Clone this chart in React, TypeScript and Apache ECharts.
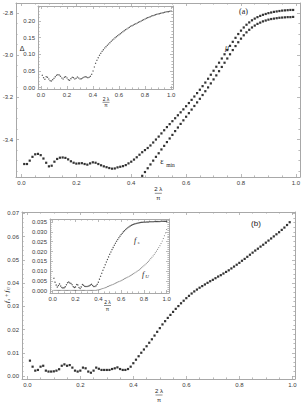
import { useEffect, useRef } from "react";
import * as echarts from "echarts";

// ---------- data (x grid: start 0.01, step 0.01) ----------
const X_STEP = 0.01;

// Panel (a): mu, from x = 0.01 to 0.99
const MU_START = 0.01;
const MU = [
  -3.516, -3.516, -3.5, -3.482, -3.47, -3.468, -3.474, -3.49, -3.51, -3.527,
  -3.524, -3.505, -3.492, -3.486, -3.485, -3.487, -3.494, -3.503, -3.51, -3.514,
  -3.513, -3.512, -3.516, -3.519, -3.513, -3.508, -3.51, -3.516, -3.522, -3.527,
  -3.531, -3.535, -3.538, -3.537, -3.532, -3.529, -3.526, -3.521, -3.513, -3.505,
  -3.495, -3.484, -3.472, -3.46, -3.45, -3.44, -3.428, -3.414, -3.4, -3.386,
  -3.371, -3.356, -3.341, -3.327, -3.313, -3.299, -3.285, -3.271, -3.257, -3.242,
  -3.227, -3.212, -3.196, -3.18, -3.164, -3.147, -3.13, -3.112, -3.093, -3.074,
  -3.055, -3.036, -3.016, -2.996, -2.976, -2.956, -2.937, -2.918, -2.9, -2.884,
  -2.869, -2.856, -2.845, -2.835, -2.827, -2.82, -2.814, -2.809, -2.805, -2.801,
  -2.798, -2.795, -2.793, -2.791, -2.789, -2.788, -2.787, -2.786, -2.786,
];

// Panel (a): epsilon_min, visible from x = 0.44 to 0.99
const EPS_START = 0.44;
const EPS_MIN = [
  -3.572, -3.554, -3.536, -3.518, -3.5, -3.482, -3.465, -3.447, -3.43, -3.412,
  -3.395, -3.378, -3.36, -3.343, -3.326, -3.309, -3.292, -3.275, -3.258, -3.241,
  -3.224, -3.207, -3.189, -3.171, -3.153, -3.134, -3.115, -3.096, -3.076, -3.056,
  -3.036, -3.016, -2.996, -2.976, -2.957, -2.939, -2.922, -2.906, -2.892, -2.88,
  -2.869, -2.86, -2.852, -2.846, -2.84, -2.836, -2.832, -2.829, -2.827, -2.825,
  -2.823, -2.822, -2.821, -2.82, -2.82, -2.819,
];

// Inset (a): Delta, x = 0.01 .. 1.00
const DELTA_START = 0.01;
const DELTA = [
  0.037, 0.03, 0.025, 0.033, 0.031, 0.026, 0.021, 0.02, 0.024, 0.028,
  0.033, 0.037, 0.039, 0.038, 0.034, 0.029, 0.026, 0.031, 0.033, 0.029,
  0.024, 0.022, 0.027, 0.031, 0.03, 0.026, 0.028, 0.032, 0.029, 0.026,
  0.027, 0.029, 0.031, 0.033, 0.032, 0.03, 0.031, 0.034, 0.04, 0.05,
  0.062, 0.073, 0.082, 0.09, 0.097, 0.103, 0.109, 0.114, 0.119, 0.123,
  0.127, 0.131, 0.135, 0.139, 0.143, 0.146, 0.15, 0.153, 0.156, 0.159,
  0.162, 0.165, 0.168, 0.171, 0.174, 0.176, 0.179, 0.181, 0.184, 0.186,
  0.188, 0.19, 0.192, 0.194, 0.196, 0.198, 0.2, 0.202, 0.204, 0.206,
  0.208, 0.21, 0.211, 0.213, 0.215, 0.216, 0.217, 0.219, 0.22, 0.221,
  0.222, 0.223, 0.224, 0.225, 0.226, 0.227, 0.228, 0.228, 0.229, 0.23,
];

// Panel (b): fs + fU, x = 0.01 .. 0.99
const FSUM_START = 0.01;
const F_SUM = [
  0.0066, 0.004, 0.0023, 0.0026, 0.004, 0.0044, 0.0023, 0.0019, 0.0019, 0.002,
  0.0023, 0.0029, 0.0044, 0.005, 0.0044, 0.0047, 0.0036, 0.0023, 0.0019, 0.0023,
  0.0036, 0.0033, 0.0019, 0.0014, 0.0023, 0.0036, 0.0031, 0.0026, 0.0026, 0.0026,
  0.0026, 0.003, 0.0033, 0.0037, 0.003, 0.0026, 0.0026, 0.003, 0.004, 0.0055,
  0.007, 0.0085, 0.01, 0.0114, 0.0128, 0.0143, 0.0158, 0.0174, 0.019, 0.0206,
  0.0222, 0.0236, 0.025, 0.0263, 0.0276, 0.0289, 0.0301, 0.0313, 0.0324, 0.0335,
  0.0345, 0.0355, 0.0364, 0.0372, 0.038, 0.0387, 0.0394, 0.0401, 0.0408, 0.0414,
  0.0421, 0.0428, 0.0434, 0.0441, 0.0448, 0.0455, 0.0463, 0.0471, 0.0479, 0.0487,
  0.0496, 0.0504, 0.0513, 0.0522, 0.0531, 0.054, 0.0548, 0.0557, 0.0565, 0.0574,
  0.0583, 0.0592, 0.0601, 0.061, 0.0619, 0.0629, 0.0639, 0.065, 0.0662,
];

// Inset (b): fs and fU, x = 0.01 .. 1.00
const FS_START = 0.01;
const F_S = [
  0.0065, 0.0045, 0.003, 0.002, 0.0028, 0.0036, 0.0025, 0.0018, 0.0015, 0.0017,
  0.0022, 0.0032, 0.0042, 0.0046, 0.0041, 0.0038, 0.0032, 0.0022, 0.0018, 0.0021,
  0.0033, 0.0031, 0.0018, 0.0013, 0.0021, 0.0033, 0.0029, 0.0024, 0.0023, 0.0023,
  0.0024, 0.0027, 0.003, 0.0034, 0.0028, 0.0023, 0.0023, 0.0027, 0.0034, 0.0045,
  0.006, 0.0075, 0.009, 0.0105, 0.0119, 0.0133, 0.0147, 0.016, 0.0173, 0.0186,
  0.0198, 0.021, 0.0221, 0.0232, 0.0242, 0.0252, 0.0261, 0.027, 0.0278, 0.0286,
  0.0293, 0.03, 0.0306, 0.0312, 0.0317, 0.0322, 0.0326, 0.033, 0.0333, 0.0336,
  0.0338, 0.034, 0.0342, 0.0343, 0.0345, 0.0346, 0.0347, 0.0348, 0.0348, 0.0349,
  0.0349, 0.035, 0.035, 0.035, 0.0351, 0.0351, 0.0351, 0.0351, 0.0352, 0.0352,
  0.0352, 0.0352, 0.0352, 0.0352, 0.0353, 0.0353, 0.0353, 0.0353, 0.0353, 0.0353,
];
const FU_START = 0.01;
const F_U = [
  0.0003, 0.0003, 0.0003, 0.0003, 0.0003, 0.0003, 0.0003, 0.0003, 0.0003, 0.0003,
  0.0003, 0.0003, 0.0003, 0.0003, 0.0003, 0.0003, 0.0003, 0.0003, 0.0003, 0.0003,
  0.0003, 0.0003, 0.0003, 0.0003, 0.0003, 0.0003, 0.0003, 0.0003, 0.0003, 0.0003,
  0.0003, 0.0003, 0.0003, 0.0003, 0.0003, 0.0003, 0.0003, 0.0003, 0.0005, 0.0006,
  0.0007, 0.0009, 0.0011, 0.0013, 0.0015, 0.0017, 0.0019, 0.0022, 0.0024, 0.0027,
  0.0029, 0.0032, 0.0034, 0.0037, 0.004, 0.0042, 0.0045, 0.0048, 0.005, 0.0053,
  0.0056, 0.0059, 0.0062, 0.0065, 0.0068, 0.0071, 0.0074, 0.0078, 0.0081, 0.0085,
  0.0088, 0.0092, 0.0096, 0.01, 0.0104, 0.0108, 0.0113, 0.0118, 0.0123, 0.0128,
  0.0133, 0.0139, 0.0145, 0.0151, 0.0157, 0.0164, 0.0171, 0.0178, 0.0186, 0.0194,
  0.0202, 0.0211, 0.022, 0.023, 0.0241, 0.0253, 0.0266, 0.028, 0.0295, 0.0312,
];

// ---------- ticks ----------
const X_TICKS = [0, 0.2, 0.4, 0.6, 0.8, 1.0];
const A_Y_TICKS = [-3.4, -3.2, -3.0, -2.8];
const AI_Y_TICKS = [0, 0.05, 0.1, 0.15, 0.2];
const B_Y_TICKS = [0, 0.01, 0.02, 0.03, 0.04, 0.05, 0.06, 0.07];
const BI_Y_TICKS = [0, 0.005, 0.01, 0.015, 0.02, 0.025, 0.03, 0.035];

function minorTicks(lo: number, hi: number, step: number, major: number) {
  const out: number[] = [];
  const n = Math.round((hi - lo) / step);
  for (let i = 0; i <= n; i++) {
    const v = lo + i * step;
    const r = v / major;
    if (Math.abs(r - Math.round(r)) > 1e-6) out.push(+v.toFixed(5));
  }
  return out;
}

function pts(start: number, ys: number[]) {
  return ys.map((y, i) => [Math.round((start + i * X_STEP) * 1000) / 1000, y]);
}

const FRAME = "#a8a8a8";
const LABEL = "#3a3a3a";
const SANS = '"Liberation Sans", Arial, sans-serif';
const SERIF = '"Liberation Serif", "DejaVu Serif", serif';

function frame(
  gi: number,
  xr: number[],
  yr: number[],
  xMaj: number[],
  xMin: number[],
  yMaj: number[],
  yMin: number[],
  xDec: number,
  yDec: number
) {
  const base = (r: number[]) => ({
    type: "value",
    gridIndex: gi,
    min: r[0],
    max: r[1],
    splitLine: { show: false },
  });
  const lbl = (vals: number[], dec: number) => ({
    show: true,
    customValues: vals,
    formatter: (v: number) => v.toFixed(dec),
    fontSize: 6,
    color: LABEL,
    margin: 3,
    fontFamily: SANS,
  });
  const line = (show: boolean) => ({
    show,
    onZero: false,
    lineStyle: { color: FRAME, width: 1 },
  });
  const tick = (vals: number[], len: number) => ({
    show: true,
    inside: true,
    length: len,
    customValues: vals,
    lineStyle: { color: FRAME, width: 0.8 },
  });
  const xs = [
    { ...base(xr), position: "bottom", axisLine: line(true), axisTick: tick(xMaj, 3), axisLabel: lbl(xMaj, xDec) },
    { ...base(xr), position: "bottom", axisLine: line(false), axisTick: tick(xMin, 1.6), axisLabel: { show: false } },
    { ...base(xr), position: "top", axisLine: line(true), axisTick: tick(xMaj, 3), axisLabel: { show: false } },
    { ...base(xr), position: "top", axisLine: line(false), axisTick: tick(xMin, 1.6), axisLabel: { show: false } },
  ];
  const ys = [
    { ...base(yr), position: "left", axisLine: line(true), axisTick: tick(yMaj, 3), axisLabel: lbl(yMaj, yDec) },
    { ...base(yr), position: "left", axisLine: line(false), axisTick: tick(yMin, 1.6), axisLabel: { show: false } },
    { ...base(yr), position: "right", axisLine: line(true), axisTick: tick(yMaj, 3), axisLabel: { show: false } },
    { ...base(yr), position: "right", axisLine: line(false), axisTick: tick(yMin, 1.6), axisLabel: { show: false } },
  ];
  return { xs, ys };
}

function txt(x: number, y: number, text: string, font: string, extra: any = {}) {
  return {
    type: "text",
    x,
    y,
    z: 100,
    style: { text, font, fill: "#222", textAlign: "center", textVerticalAlign: "middle", ...extra },
  };
}

function fraction(cx: number, y1: number, yBar: number, y2: number, size: number) {
  return [
    txt(cx, y1, "2 λ", `${size}px ${SANS}`),
    {
      type: "line",
      z: 100,
      shape: { x1: cx - 3.5, y1: yBar, x2: cx + 3.5, y2: yBar },
      style: { stroke: "#444", lineWidth: 0.6 },
    },
    txt(cx, y2, "π", `${size}px ${SANS}`),
  ];
}

export default function App() {
  const ref = useRef<HTMLDivElement>(null);

  useEffect(() => {
    if (!ref.current) return;
    const chart = echarts.init(ref.current, null, { renderer: "svg" });

    const xMinor = minorTicks(0, 1, 0.05, 0.2);
    const fA = frame(0, [-0.02, 1.015], [-3.5775, -2.753], X_TICKS, xMinor, A_Y_TICKS, minorTicks(-3.55, -2.8, 0.05, 0.2), 1, 1);
    const fAI = frame(1, [-0.023, 1.015], [-0.004, 0.245], X_TICKS, xMinor, AI_Y_TICKS, minorTicks(0, 0.24, 0.01, 0.05), 1, 2);
    const fB = frame(2, [-0.02, 1.01], [-0.0013, 0.0706], X_TICKS, xMinor, B_Y_TICKS, minorTicks(0, 0.07, 0.002, 0.01), 1, 2);
    const fBI = frame(3, [-0.024, 1.02], [-0.001, 0.0365], X_TICKS, xMinor, BI_Y_TICKS, minorTicks(0, 0.036, 0.001, 0.005), 1, 3);

    const xAxis = [...fA.xs, ...fAI.xs, ...fB.xs, ...fBI.xs];
    const yAxis = [...fA.ys, ...fAI.ys, ...fB.ys, ...fBI.ys];

    const mainDot = { symbol: "rect", symbolSize: 2.2, itemStyle: { color: "#000" } };
    const option: any = {
      animation: false,
      backgroundColor: "#fff",
      grid: [
        { left: 16, top: 3, width: 284, height: 174, containLabel: false, outerBoundsMode: "none" },
        { left: 38, top: 6, width: 135, height: 83, containLabel: false, outerBoundsMode: "none", show: true, backgroundColor: "#fff", borderWidth: 0 },
        { left: 22, top: 212, width: 273, height: 167, containLabel: false, outerBoundsMode: "none" },
        { left: 50, top: 219, width: 119, height: 74, containLabel: false, outerBoundsMode: "none", show: true, backgroundColor: "#fff", borderWidth: 0 },
      ],
      xAxis,
      yAxis,
      series: [
        { type: "scatter", name: "mu", xAxisIndex: 0, yAxisIndex: 0, data: pts(MU_START, MU), ...mainDot },
        { type: "scatter", name: "eps", xAxisIndex: 0, yAxisIndex: 0, data: pts(EPS_START, EPS_MIN), ...mainDot },
        { type: "scatter", name: "delta", xAxisIndex: 4, yAxisIndex: 4, data: pts(DELTA_START, DELTA), symbol: "circle", symbolSize: 1.3, itemStyle: { color: "#333" } },
        { type: "scatter", name: "fsum", xAxisIndex: 8, yAxisIndex: 8, data: pts(FSUM_START, F_SUM), ...mainDot },
        { type: "scatter", name: "fs", xAxisIndex: 12, yAxisIndex: 12, data: pts(FS_START, F_S), symbol: "circle", symbolSize: 1.3, itemStyle: { color: "#222" } },
        { type: "scatter", name: "fu", xAxisIndex: 12, yAxisIndex: 12, data: pts(FU_START, F_U), symbol: "circle", symbolSize: 1.0, itemStyle: { color: "#555" } },
      ],
      graphic: [
        txt(243.5, 11, "(a)", `8px ${SERIF}`),
        txt(256, 223, "(b)", `8px ${SANS}`),
        txt(227, 47, "μ", `italic 8px ${SERIF}`),
        txt(162, 161.5, "ε", `8px ${SERIF}`),
        txt(170.5, 164.5, "min", `5.5px ${SERIF}`),
        txt(22, 48, "Δ", `7px ${SANS}`),
        txt(135, 240, "f", `italic 8px ${SERIF}`),
        txt(138.5, 242.5, "s", `italic 5px ${SERIF}`),
        txt(143, 274, "f", `italic 8px ${SERIF}`),
        txt(147, 276.5, "U", `italic 5px ${SERIF}`),
        ...fraction(158.3, 189, 193.3, 197.5, 6),
        ...fraction(159, 390.5, 395, 399.5, 6),
        ...fraction(106, 99, 102.3, 105.2, 5),
        ...fraction(107.5, 302.3, 305.5, 308.5, 5),
        {
          type: "group",
          x: 7,
          y: 303,
          rotation: Math.PI / 2,
          z: 100,
          children: [
            { type: "text", x: 0, y: 0, style: { text: "f", font: `italic 7px ${SERIF}`, fill: "#222", textVerticalAlign: "middle" } },
            { type: "text", x: 2.4, y: 1.5, style: { text: "s", font: `italic 4.5px ${SERIF}`, fill: "#222", textVerticalAlign: "middle" } },
            { type: "text", x: 6, y: 0, style: { text: "+", font: `6px ${SERIF}`, fill: "#222", textVerticalAlign: "middle" } },
            { type: "text", x: 10.5, y: 0, style: { text: "f", font: `italic 7px ${SERIF}`, fill: "#222", textVerticalAlign: "middle" } },
            { type: "text", x: 12.9, y: 1.5, style: { text: "U", font: `italic 4.5px ${SERIF}`, fill: "#222", textVerticalAlign: "middle" } },
          ],
        },
      ],
    };

    chart.setOption(option);
    return () => chart.dispose();
  }, []);

  return (
    <div
      ref={ref}
      style={{ position: "fixed", left: 0, top: 0, width: 304, height: 404, background: "#fff" }}
    />
  );
}
